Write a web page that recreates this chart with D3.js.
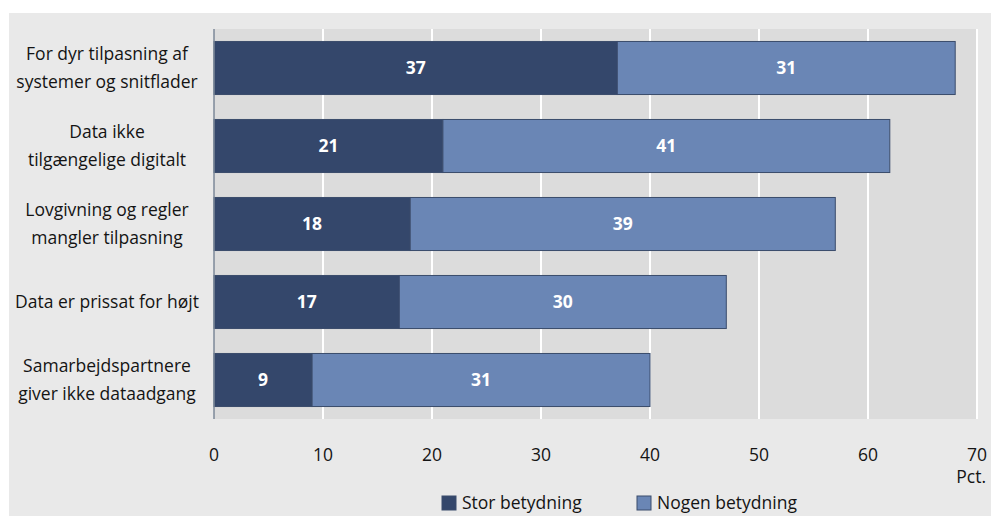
<!DOCTYPE html>
<html>
<head>
<meta charset="utf-8">
<script src="https://cdn.jsdelivr.net/npm/d3@7/dist/d3.min.js"></script>
<style>
  html, body { margin: 0; padding: 0; background: #ffffff; }
  svg { display: block; }
  text { font-family: "Open Sans", "DejaVu Sans", sans-serif; }
</style>
</head>
<body>
<svg id="chart" width="991" height="516"></svg>
<script>
// Categories (two-line labels) and stacked series values, in percent
const categories = [
  ["For dyr tilpasning af", "systemer og snitflader"],
  ["Data ikke", "tilgængelige digitalt"],
  ["Lovgivning og regler", "mangler tilpasning"],
  ["Data er prissat for højt"],
  ["Samarbejdspartnere", "giver ikke dataadgang"]
];
const storBetydning = [37, 21, 18, 17, 9];
const nogenBetydning = [31, 41, 39, 30, 31];
const seriesNames = ["Stor betydning", "Nogen betydning"];
const seriesColors = ["#34476b", "#6a86b5"];
const xTicks = [0, 10, 20, 30, 40, 50, 60, 70];
const unitLabel = "Pct.";

const svg = d3.select("#chart");
const W = 991, H = 516;
const plot = { left: 214, right: 977, top: 29, bottom: 419 };
const fs = 17.5;

// outer panel
svg.append("rect").attr("x", 9).attr("y", 13).attr("width", W - 9).attr("height", H - 13)
  .attr("fill", "#e9e9e9");
// plot area
svg.append("rect").attr("x", plot.left).attr("y", plot.top)
  .attr("width", plot.right - plot.left).attr("height", plot.bottom - plot.top)
  .attr("fill", "#dcdcdc");

const keys = categories.map((c, i) => i);
const x = d3.scaleLinear().domain([0, 70]).range([plot.left, plot.right]);
const y = d3.scaleBand().domain(keys).range([plot.top, plot.bottom])
  .paddingInner(0.32).paddingOuter(0.16);

// vertical gridlines
svg.append("g").selectAll("line").data(xTicks.filter(t => t > 0)).join("line")
  .attr("x1", d => x(d)).attr("x2", d => x(d))
  .attr("y1", plot.top).attr("y2", plot.bottom)
  .attr("stroke", "#ffffff").attr("stroke-width", 2);

// stacked bars
const rows = keys.map(i => ({ i, stor: storBetydning[i], nogen: nogenBetydning[i] }));
const stack = d3.stack().keys(["stor", "nogen"])(rows);
const layers = svg.append("g").selectAll("g").data(stack).join("g")
  .attr("fill", (d, k) => seriesColors[k]);
layers.selectAll("rect").data(d => d).join("rect")
  .attr("x", d => x(d[0]))
  .attr("y", d => y(d.data.i))
  .attr("width", d => x(d[1]) - x(d[0]))
  .attr("height", y.bandwidth())
  .attr("stroke", "#3b4c6c").attr("stroke-width", 1);

// value labels
layers.selectAll("text").data(d => d).join("text")
  .attr("x", d => (x(d[0]) + x(d[1])) / 2)
  .attr("y", d => y(d.data.i) + y.bandwidth() / 2)
  .attr("dy", "0.36em")
  .attr("text-anchor", "middle")
  .attr("fill", "#ffffff").attr("font-weight", "bold").attr("font-size", fs)
  .text(d => d[1] - d[0]);

// y axis line at zero
svg.append("line").attr("x1", x(0)).attr("x2", x(0))
  .attr("y1", plot.top).attr("y2", plot.bottom)
  .attr("stroke", "#7c8898").attr("stroke-width", 1.5);

// category labels
const catG = svg.append("g");
categories.forEach((lines, i) => {
  const cy = y(i) + y.bandwidth() / 2;
  const lh = 28;
  const t = catG.append("text").attr("text-anchor", "middle").attr("font-size", fs)
    .attr("fill", "#141414");
  lines.forEach((ln, j) => {
    t.append("tspan").attr("x", 107)
      .attr("y", cy + (j - (lines.length - 1) / 2) * lh)
      .attr("dy", "0.36em").text(ln);
  });
});

// x axis tick labels
svg.append("g").selectAll("text").data(xTicks).join("text")
  .attr("x", d => x(d)).attr("y", 455).attr("dy", "0.36em")
  .attr("text-anchor", "middle").attr("font-size", fs).attr("fill", "#141414")
  .text(d => d);
svg.append("text").attr("x", 986).attr("y", 477).attr("dy", "0.36em")
  .attr("text-anchor", "end").attr("font-size", fs).attr("fill", "#141414")
  .text(unitLabel);

// legend
const legendX = [442, 637];
const lg = svg.append("g").selectAll("g").data(seriesNames).join("g")
  .attr("transform", (d, k) => `translate(${legendX[k]},496)`);
lg.append("rect").attr("width", 14).attr("height", 14)
  .attr("fill", (d, k) => seriesColors[k]).attr("stroke", "#3b4c6c").attr("stroke-width", 1);
lg.append("text").attr("x", 20).attr("y", 7).attr("dy", "0.36em")
  .attr("font-size", fs).attr("fill", "#141414").text(d => d);
</script>
</body>
</html>
